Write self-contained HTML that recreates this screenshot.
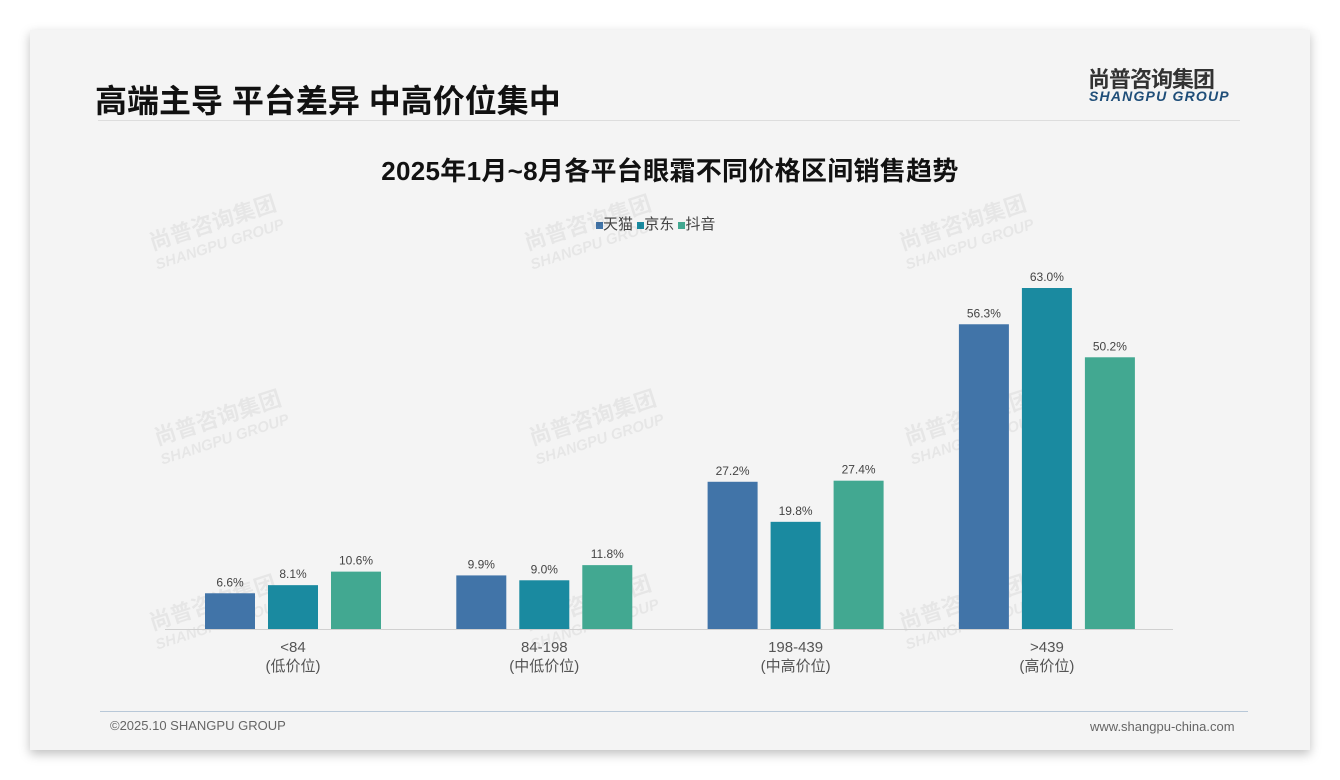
<!DOCTYPE html>
<html><head><meta charset="utf-8"><style>
body{margin:0;width:1340px;height:780px;background:#fff;position:relative;overflow:hidden;font-family:"Liberation Sans","Noto Sans CJK SC",sans-serif}
#card{position:absolute;left:30px;top:30px;width:1280px;height:720px;background:#f4f4f4;box-shadow:0 4px 10px rgba(0,0,0,0.25)}
.abs{position:absolute}
</style></head><body>
<div id="card"></div>
<div class="abs" style="left:95px;top:76px;font-size:32px;font-weight:bold;color:#111;letter-spacing:0px">高端主导 平台差异 中高价位集中</div>
<div class="abs" style="left:1088px;top:62px;font-size:22px;font-weight:bold;color:#333;letter-spacing:-1px">尚普咨询集团</div>
<div class="abs" style="left:1089px;top:88px;font-size:14px;font-weight:bold;font-style:italic;color:#1f4e79;letter-spacing:1.2px">SHANGPU GROUP</div>
<div class="abs" style="left:98px;top:120px;width:1142px;height:1px;background:#ddd"></div>
<div class="abs" style="left:0;width:1340px;text-align:center;top:151px;font-size:26px;font-weight:bold;color:#111;letter-spacing:0.3px">2025年1月~8月各平台眼霜不同价格区间销售趋势</div>
<div class="abs" style="left:596px;top:213px;font-size:15px;color:#444">
<span><span style="display:inline-block;width:7px;height:7px;background:#4174a8"></span>天猫</span>
<span><span style="display:inline-block;width:7px;height:7px;background:#1a8aa0"></span>京东</span>
<span><span style="display:inline-block;width:7px;height:7px;background:#42a891"></span>抖音</span>
</div>
<svg id="chart" class="abs" style="left:0;top:0" width="1340" height="780"></svg>
<div class="abs" style="left:100px;top:711px;width:1148px;height:1px;background:#b8c8d8"></div>
<div class="abs" style="left:110px;top:718px;font-size:13px;color:#666">©2025.10 SHANGPU GROUP</div>
<div class="abs" style="left:1090px;top:719px;font-size:13px;color:#666">www.shangpu-china.com</div>
<script>
const categories=['<84','84-198','198-439','>439'];
const subLabels=['(低价位)','(中低价位)','(中高价位)','(高价位)'];
const tmall=[6.6,9.9,27.2,56.3];
const jd=[8.1,9.0,19.8,63.0];
const douyin=[10.6,11.8,27.4,50.2];
const seriesList=[{n:'tmall',v:tmall,c:'#4174a8'},{n:'jd',v:jd,c:'#1a8aa0'},{n:'douyin',v:douyin,c:'#42a891'}];
const NS='http://www.w3.org/2000/svg';
const svg=document.getElementById('chart');
const base=629, scale=341/63;
const y=v=>base-v*scale;
const cx=i=>293+i*251.3;
function mk(t,a){const e=document.createElementNS(NS,t);for(const k in a)e.setAttribute(k,a[k]);svg.appendChild(e);return e;}
[[215,230],[590,230],[965,230],[220,425],[595,425],[970,425],[215,610],[590,610],[965,610]].forEach(p=>{
 const g=mk('g',{transform:`translate(${p[0]},${p[1]}) rotate(-18)`,opacity:'0.05'});
 
 
 const t1=document.createElementNS(NS,'text');t1.setAttribute('text-anchor','middle');t1.setAttribute('font-size','22');t1.setAttribute('font-weight','bold');t1.textContent='尚普咨询集团';g.appendChild(t1);
 const t2=document.createElementNS(NS,'text');t2.setAttribute('text-anchor','middle');t2.setAttribute('y','20');t2.setAttribute('font-size','15');t2.setAttribute('font-weight','bold');t2.setAttribute('font-style','italic');t2.textContent='SHANGPU GROUP';g.appendChild(t2);
});
const ax=mk('line',{x1:165,x2:1173,y1:base+0.5,y2:base+0.5,stroke:'#d0d0d0','stroke-width':1});


categories.forEach((c,i)=>{
 seriesList.forEach((s,j)=>{
  const x=cx(i)-88+j*63, v=s.v[i];
  const r=mk('rect',{x:x,y:y(v),width:50,height:base-y(v),fill:s.c});
  
  
  const t=mk('text',{x:x+25,y:y(v)-7,'text-anchor':'middle','font-size':12,fill:'#444'});
  
  
  t.textContent=v.toFixed(1)+'%';
 });
 const l=mk('text',{x:cx(i),y:652,'text-anchor':'middle','font-size':15,fill:'#555'});
 
 
 l.textContent=c;
 const l2=mk('text',{x:cx(i),y:671,'text-anchor':'middle','font-size':15,fill:'#555'});
 
 
 l2.textContent=subLabels[i];
});
</script>
</body></html>
